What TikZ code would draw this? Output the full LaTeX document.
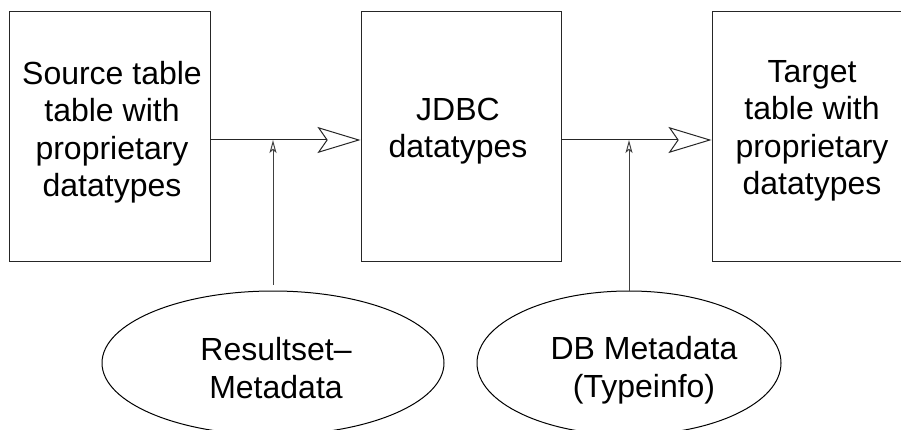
\documentclass[tikz,border=0pt]{standalone}
\usepackage{fontspec}
\setmainfont{Liberation Sans}
\usetikzlibrary{arrows.meta,shapes.geometric}
\begin{document}
\begin{tikzpicture}[x=1pt,y=-1pt,
  box/.style={draw=black!85, line width=1pt, minimum width=201pt, minimum height=249pt, inner sep=0pt},
  oval/.style={ellipse, draw=black, line width=1pt, minimum height=144pt, inner sep=0pt},
  txt/.style={align=center, font=\fontsize{32pt}{37.5pt}\selectfont, inner sep=0pt},
  flow/.style={draw=black!85, line width=1pt, -{Stealth[open, length=43pt, width=26pt, inset=9pt, line width=1pt]}},
  feed/.style={draw=black!75, line width=1pt, -{Stealth[open, length=13pt, width=7pt, inset=3pt]}}]
\useasboundingbox (0,0) rectangle (901,430);
\clip (0,0) rectangle (901,430);
\node[box] (src) at (109.5,136.5) {};
\node[box, minimum width=200pt] (jdbc) at (461,136.5) {};
\node[box] (tgt) at (812.5,136.5) {};
\node[oval, minimum width=342pt] (res) at (273,363) {};
\node[oval, minimum width=304pt] (meta) at (629,363) {};
\coordinate (lane) at (0,140);
\draw[flow] (src.east |- lane) -- (jdbc.west |- lane);
\draw[flow] (jdbc.east |- lane) -- (tgt.west |- lane);
\draw[feed] ([yshift=6pt]res.north) -- (res.north |- lane);
\draw[feed] (meta.north) -- (meta.north |- lane);
\node[txt] (srcText) at (112,132) {Source table\\table with\\proprietary\\datatypes};
\node[txt] (jdbcText) at (458,131) {JDBC\\datatypes};
\node[txt] (tgtText) at (812,131) {Target\\table with\\proprietary\\datatypes};
\node[txt] (resText) at (276,368) {Resultset–\\Metadata};
\node[txt] (metaText) at (644,370) {DB Metadata\\(Typeinfo)};
\end{tikzpicture}
\end{document}
